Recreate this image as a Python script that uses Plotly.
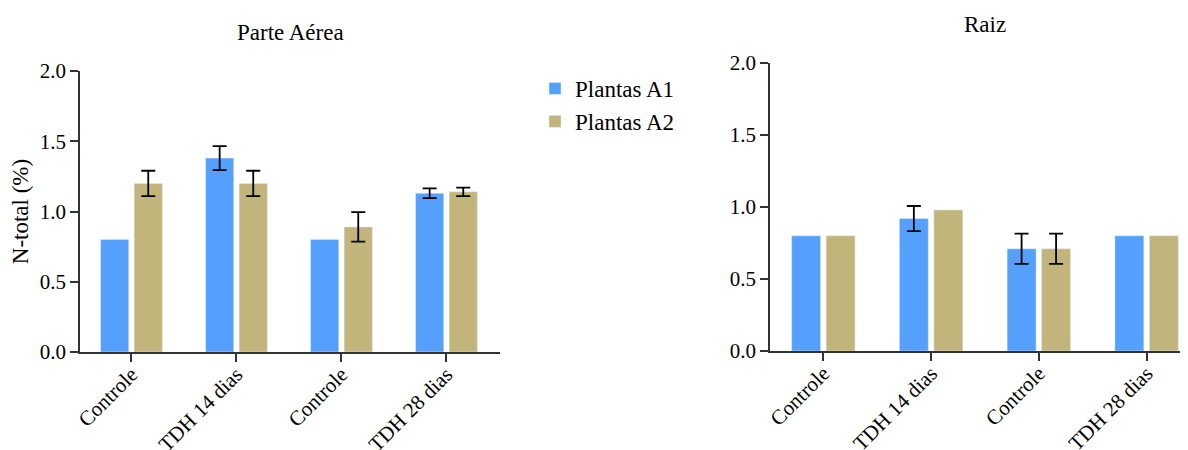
import plotly.graph_objects as go

categories = ["Controle", "TDH 14 dias", "Controle", "TDH 28 dias"]
x_pos = [0, 1, 2, 3]

aerea_a1 = [0.80, 1.38, 0.80, 1.13]
aerea_a1_err = [None, 0.085, None, 0.035]
aerea_a2 = [1.20, 1.20, 0.89, 1.14]
aerea_a2_err = [0.09, 0.09, 0.105, 0.03]

raiz_a1 = [0.80, 0.92, 0.71, 0.80]
raiz_a1_err = [None, 0.087, 0.105, None]
raiz_a2 = [0.80, 0.98, 0.71, 0.80]
raiz_a2_err = [None, None, 0.105, None]

y_ticks = [0.0, 0.5, 1.0, 1.5, 2.0]

C1 = "#56A0FD"
C2 = "#C1B57C"
FONT = "'Liberation Serif', 'Times New Roman', 'DejaVu Serif', serif"

fig = go.Figure()

def err(v):
    # "NaN" (not null) makes plotly skip the error bar for that point
    arr = ["NaN" if e is None else e for e in v]
    return dict(type="data", array=arr, visible=True, color="black", thickness=1.8, width=7)

fig.add_trace(go.Bar(x=x_pos, y=aerea_a1, error_y=err(aerea_a1_err), marker_color=C1,
                     name="Plantas A1", legendgroup="a1", xaxis="x", yaxis="y"))
fig.add_trace(go.Bar(x=x_pos, y=aerea_a2, error_y=err(aerea_a2_err), marker_color=C2,
                     name="Plantas A2", legendgroup="a2", xaxis="x", yaxis="y"))
fig.add_trace(go.Bar(x=x_pos, y=raiz_a1, error_y=err(raiz_a1_err), marker_color=C1,
                     name="Plantas A1", legendgroup="a1", showlegend=False, xaxis="x2", yaxis="y2"))
fig.add_trace(go.Bar(x=x_pos, y=raiz_a2, error_y=err(raiz_a2_err), marker_color=C2,
                     name="Plantas A2", legendgroup="a2", showlegend=False, xaxis="x2", yaxis="y2"))

# page body has an 8px margin, so the figure starts at (8, 8) on screen
OFF = 8
W, H = 1188 - OFF, 450 - OFF
ML, MR, MT, MB = 80 - OFF, 1, 63 - OFF, 98
PW, PH = W - ML - MR, H - MT - MB

def px_x(s):
    return (s - OFF - ML) / PW

def px_y(s):
    return (H - MB - (s - OFF)) / PH

xaxis_common = dict(
    tickvals=x_pos, ticktext=categories, tickangle=-45,
    showline=True, linecolor="#333", linewidth=1.8,
    ticks="outside", ticklen=8, tickwidth=1.8, tickcolor="#333",
    ticklabelstandoff=-8,
    showgrid=False, zeroline=False, automargin=False,
    tickfont=dict(family=FONT, size=21, color="black"),
)
yaxis_common = dict(
    range=[0, 2.0], tickvals=y_ticks, tickformat=".1f",
    showline=True, linecolor="#333", linewidth=1.8,
    ticks="outside", ticklen=8, tickwidth=1.8, tickcolor="#333",
    showgrid=False, zeroline=False, automargin=False,
    tickfont=dict(family=FONT, size=21, color="black"),
)

fig.update_layout(
    width=W, height=H,
    margin=dict(l=ML, r=MR, t=MT, b=MB),
    paper_bgcolor="white", plot_bgcolor="white",
    barmode="group", bargap=0.36, bargroupgap=0.16,
    font=dict(family=FONT, size=21, color="black"),
    xaxis=dict(xaxis_common, domain=[px_x(80), px_x(500)], range=[-0.49, 3.51], anchor="y"),
    yaxis=dict(yaxis_common, domain=[px_y(352), px_y(71)], anchor="x",
               title=dict(text="N-total (%)", font=dict(family=FONT, size=23), standoff=12)),
    xaxis2=dict(xaxis_common, domain=[px_x(770), px_x(1187)], range=[-0.495, 3.375], anchor="y2"),
    yaxis2=dict(yaxis_common, domain=[px_y(351), px_y(63)], anchor="x2"),
    legend=dict(x=px_x(535), y=px_y(67), xanchor="left", yanchor="top",
                font=dict(family=FONT, size=23), tracegroupgap=0,
                bgcolor="rgba(0,0,0,0)"),
    annotations=[
        dict(text="Parte Aérea", x=px_x(290), y=px_y(33), xref="paper", yref="paper",
             showarrow=False, font=dict(family=FONT, size=23), xanchor="center", yanchor="middle"),
        dict(text="Raiz", x=px_x(985), y=px_y(25), xref="paper", yref="paper",
             showarrow=False, font=dict(family=FONT, size=23), xanchor="center", yanchor="middle"),
    ],
)

fig.write_html("out.html")
